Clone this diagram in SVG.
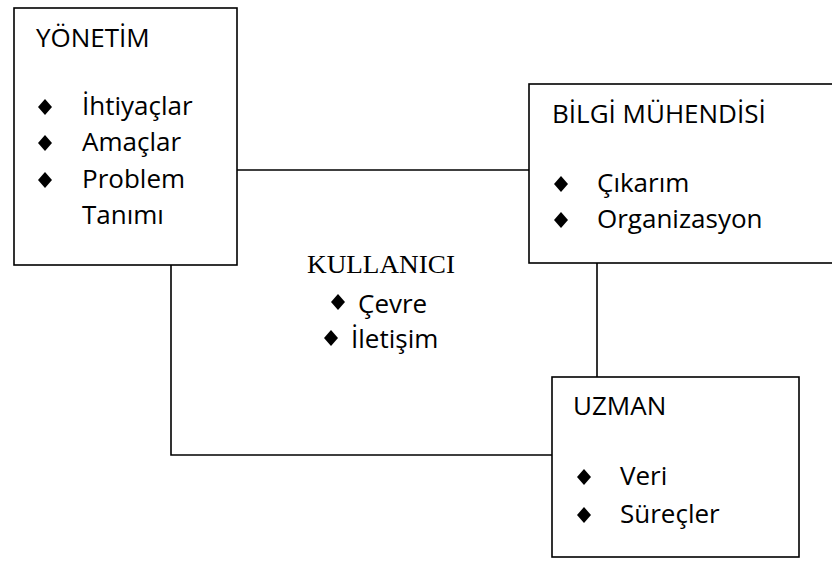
<svg xmlns="http://www.w3.org/2000/svg" xmlns:xlink="http://www.w3.org/1999/xlink" width="832" height="561" viewBox="0 0 832 561">
  <style>
    .box { fill: #ffffff; stroke: #000000; stroke-width: 1.6; }
    .link { fill: none; stroke: #000000; stroke-width: 1.6; }
    .t { font-family: "Open Sans", "Noto Sans", "DejaVu Sans", sans-serif; font-size: 26px; fill: #000000; }
    .serif { font-family: "Liberation Serif", "Times New Roman", serif; font-size: 25px; fill: #000000; }
  </style>
  <defs>
    <path id="bullet" d="M0,-8 L7,0 L0,8 L-7,0 Z" fill="#000000"/>
  </defs>

  <rect width="832" height="561" fill="#ffffff"/>

  <!-- connectors -->
  <g id="connectors">
    <line class="link" x1="237" y1="170" x2="529" y2="170"/>
    <line class="link" x1="597" y1="263" x2="597" y2="377"/>
    <polyline class="link" points="171,265 171,455 552,455"/>
  </g>

  <!-- management -->
  <g id="yonetim">
    <rect class="box" x="14" y="8" width="223" height="257"/>
    <text class="t" x="36" y="47">YÖNETİM</text>
    <use xlink:href="#bullet" x="45" y="107"/>
    <text class="t" x="82" y="115">İhtiyaçlar</text>
    <use xlink:href="#bullet" x="45" y="143"/>
    <text class="t" x="82" y="151">Amaçlar</text>
    <use xlink:href="#bullet" x="45" y="180"/>
    <text class="t" x="82" y="188">Problem</text>
    <text class="t" x="82" y="224">Tanımı</text>
  </g>

  <!-- knowledge engineer -->
  <g id="bilgi-muhendisi">
    <rect class="box" x="529" y="84" width="310" height="179"/>
    <text class="t" x="552" y="123">BİLGİ MÜHENDİSİ</text>
    <use xlink:href="#bullet" x="561" y="184"/>
    <text class="t" x="597" y="192">Çıkarım</text>
    <use xlink:href="#bullet" x="561" y="220"/>
    <text class="t" x="597" y="228">Organizasyon</text>
  </g>

  <!-- user -->
  <g id="kullanici">
    <text class="serif" x="307" y="273" textLength="148" lengthAdjust="spacingAndGlyphs">KULLANICI</text>
    <use xlink:href="#bullet" x="338" y="302"/>
    <text class="t" x="358" y="313">Çevre</text>
    <use xlink:href="#bullet" x="331" y="338"/>
    <text class="t" x="351" y="348">İletişim</text>
  </g>

  <!-- expert -->
  <g id="uzman">
    <rect class="box" x="552" y="377" width="247" height="180"/>
    <text class="t" x="573" y="415">UZMAN</text>
    <use xlink:href="#bullet" x="584" y="477"/>
    <text class="t" x="620" y="485">Veri</text>
    <use xlink:href="#bullet" x="584" y="515"/>
    <text class="t" x="620" y="523">Süreçler</text>
  </g>
</svg>
